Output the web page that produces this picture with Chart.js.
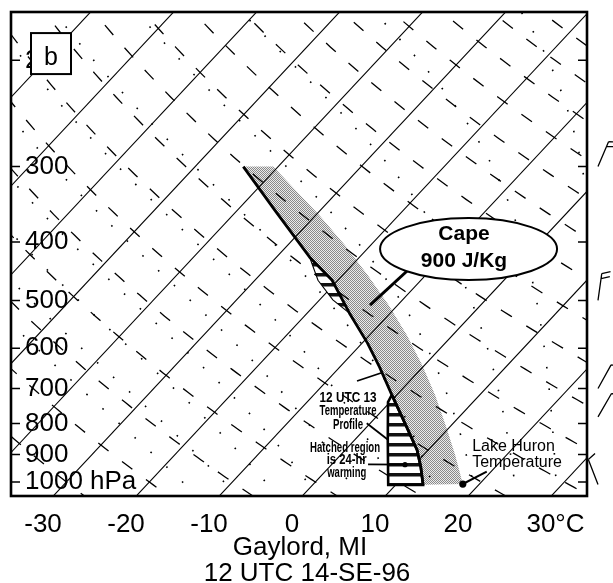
<!DOCTYPE html>
<html><head><meta charset="utf-8">
<script src="https://cdn.jsdelivr.net/npm/chart.js@4.4.1/dist/chart.umd.min.js"></script>
<style>html,body{margin:0;padding:0;background:#fff;}#wrap{width:613px;height:583px;position:relative;}</style>
</head><body><div id="wrap"><canvas id="c" width="613" height="583"></canvas></div>
<script>
// ---------------- data ----------------
const X_TICKS = [-30, -20, -10, 0, 10, 20, 30];
const X_TICK_LABELS = ['-30', '-20', '-10', '0', '10', '20', '    30\u00B0C'];
const P_TICKS = [200, 300, 400, 500, 600, 700, 800, 900, 1000];
const P_TICK_LABELS = ['200', '300', '400', '500', '600', '700', '800', '900', '1000 hPa'];

const ISOTHERMS = [-90, -80, -70, -60, -50, -40, -30, -20, -10, 0, 10, 20, 30];          // °C
const DRY_ADIABATS = [-40, -30, -20, -10, 0, 10, 20, 30, 40, 50, 60, 70, 80, 90, 100, 110, 120, 130, 140, 150]; // theta °C
const MOIST_ADIABATS = [-16, -11, -6, -1, 4, 9, 14, 19, 24, 29, 34];                      // T at 1000 hPa, °C

// 12 UTC 14 Sep 96 temperature profile (thick line)
const PROFILE_P = [300, 357, 424, 463, 525, 588, 645, 717, 805, 885, 944, 1011];
const PROFILE_T = [-44.2, -35.1, -26.0, -20.7, -14.9, -9.4, -5.2, -0.6, 4.5, 8.65, 11.0, 13.3];
// 12 UTC 13 profile where it differs (left edges of hatched regions)
const OLD_UP_P = [424, 463, 499, 525];
const OLD_UP_T = [-26.0, -22.4, -18.4, -14.9];
const OLD_LOW_P = [717, 737, 852, 1011];
const OLD_LOW_T = [-0.6, -0.25, 4.0, 9.1];
// parcel lifted from Lake Huron temperature (right edge of CAPE area)
const PARCEL_P = [1008, 902, 805, 717, 640, 571, 509, 454, 405, 361, 328, 300];
const PARCEL_T = [18.0, 13.8, 9.3, 4.6, -0.3, -5.5, -11.1, -17.0, -23.1, -29.6, -35.3, -40.6];
const LAKE_P = [1008];
const LAKE_T = [18.0];
// wind barbs on the right
const BARB_P = [300, 500, 700, 780, 1010];
const BARB_DIR = [23, 8, 29, 30, -21];
const BARB_FEATHERS = [2, 2, 1, 1, 1];

// ---------------- diagram geometry ----------------
const SKEW = 29.5, P_REF = 1100;
const skewX = (T, P) => T + SKEW * Math.log(P_REF / P);
const pt = (T, P) => ({x: skewX(T, P), y: P});
const FONT = '"Liberation Sans", Arial, Helvetica, sans-serif';

function pressures(){ const a=[]; for(let p=160;p<=1060;p+=10) a.push(p); return a; }
function isotherm(T){ return [pt(T,160), pt(T,1060)]; }
function dryAdiabat(th){ return pressures().map(p => pt((th+273.15)*Math.pow(p/1000,0.2857)-273.15, p)); }
function moistAdiabat(T0){
  const Rd=287.04,Cp=1005.7,Lv=2.501e6,eps=0.622;
  const f=(T,P)=>{const c=T-273.15;const es=6.112*Math.exp(17.67*c/(c+243.5));const rs=eps*es/(P-es);
    return (Rd*T+Lv*rs)/(Cp+Lv*Lv*rs*eps/(Rd*T*T));};
  const step=(T,l,h)=>{const k1=f(T,Math.exp(l));const k2=f(T+h*k1/2,Math.exp(l+h/2));
    const k3=f(T+h*k2/2,Math.exp(l+h/2));const k4=f(T+h*k3,Math.exp(l+h));return T+h*(k1+2*k2+2*k3+k4)/6;};
  const up=[pt(T0,1000)]; let T=T0+273.15, l=Math.log(1000);
  while(l>Math.log(160)){T=step(T,l,-0.02);l-=0.02;up.push(pt(T-273.15,Math.exp(l)));}
  const dn=[]; T=T0+273.15; l=Math.log(1000);
  while(l<Math.log(1060)){T=step(T,l,0.02);l+=0.02;dn.push(pt(T-273.15,Math.exp(l)));}
  return dn.reverse().concat(up);
}
const series = (P, T) => P.map((p,i) => pt(T[i], p));

const profile = series(PROFILE_P, PROFILE_T);
const between = (lo, hi) => profile.filter(d => d.y >= lo && d.y <= hi);
const lowHatch = series(OLD_LOW_P, OLD_LOW_T).concat(between(717, 1011).reverse());
const upHatch = series(OLD_UP_P, OLD_UP_T).concat(between(424, 525).reverse());
const capeArea = profile.concat(series(PARCEL_P, PARCEL_T));

// ---------------- patterns ----------------
const mainCtx = document.getElementById('c').getContext('2d');
function grayPattern(){
  const c=document.createElement('canvas'); c.width=2; c.height=2; const g=c.getContext('2d');
  g.fillStyle='rgba(0,0,0,0.08)'; g.fillRect(0,0,2,2);
  g.fillStyle='rgba(0,0,0,0.42)'; g.fillRect(0,0,1,1); g.fillRect(1,1,1,1);
  return mainCtx.createPattern(c,'repeat');
}
function hatchPattern(){
  const c=document.createElement('canvas'); c.width=10; c.height=10; const g=c.getContext('2d');
  g.fillStyle='#fff'; g.fillRect(0,0,10,10);
  g.fillStyle='#111'; g.fillRect(0,3,10,3.5);
  return mainCtx.createPattern(c,'repeat');
}

// ---------------- datasets ----------------
const base = {showLine:true, pointRadius:0, tension:0, fill:false, borderColor:'#000'};
const datasets = [
  Object.assign({}, base, {data: profile, borderWidth: 2.8, borderJoinStyle:'round'}),
  Object.assign({}, base, {data: lowHatch, borderWidth: 2.6, fill:'shape', backgroundColor: hatchPattern(), borderJoinStyle:'miter'}),
  Object.assign({}, base, {data: upHatch, borderWidth: 1.1, fill:'shape', backgroundColor: hatchPattern()}),
  Object.assign({}, base, {data: capeArea, borderWidth: 0, fill:'shape', backgroundColor: grayPattern()}),
];
ISOTHERMS.forEach(t => datasets.push(Object.assign({}, base, {data: isotherm(t), borderWidth: 1.1})));
DRY_ADIABATS.forEach(t => datasets.push(Object.assign({}, base, {data: dryAdiabat(t), borderWidth: 1.3, borderDash:[13,17]})));
MOIST_ADIABATS.forEach(t => datasets.push(Object.assign({}, base, {data: moistAdiabat(t), borderWidth: 1.6, borderDash:[1.6,20], borderCapStyle:'butt'})));

// ---------------- annotations (positions in axis units / hPa) ----------------
const NOTES = [
  {t:'Cape', x:20.72, p:397.1, font:'bold 21px', align:'center'},
  {t:'900 J/Kg', x:20.72, p:439.7, font:'bold 21px', align:'center'},
  {t:'12 UTC 13', x:6.75, p:737.8, font:'bold 14px', align:'center', w:57},
  {t:'Temperature', x:6.75, p:774.4, font:'bold 14px', align:'center', w:57},
  {t:'Profile', x:6.75, p:816.9, font:'bold 14px', align:'center', w:30},
  {t:'Hatched region', x:6.39, p:890.8, font:'bold 14px', align:'center', w:70},
  {t:'is 24-hr', x:6.59, p:934.7, font:'bold 14px', align:'center', w:40},
  {t:'warming', x:6.59, p:981, font:'bold 14px', align:'center', w:39},
  {t:'Lake Huron', x:21.7, p:889.4, font:'16px', align:'left'},
  {t:'Temperature', x:21.7, p:944.4, font:'16px', align:'left'}
];
const LEADERS = [
  {a:[13.86,446.9], b:[9.40,508.9], w:3},
  {a:[7.83,680.1], b:[10.72,659.7], w:1.8},
  {a:[9.00,799.3], b:[11.60,851.9], w:1.8},
  {a:[9.16,934.7], b:[13.61,936.1], w:1.8, dot:2.6},
  {a:[20.57,1007.7], b:[23.46,961.5], w:2}
];
const ELLIPSE = {x:21.27, p:411.0, rx:88.5, ry:31};
const BOX = {x:-29.04, p:194.9, w:40, h:41, t:'b'};

const decor = {
  id:'decor',
  afterDraw(chart){
    const {ctx, chartArea:a, scales:{x, y}} = chart;
    const X = v => x.getPixelForValue(v), Y = v => y.getPixelForValue(v);
    ctx.save();
    ctx.strokeStyle='#000'; ctx.fillStyle='#000'; ctx.lineCap='butt';
    // edge ticks
    ctx.lineWidth=1.5;
    P_TICKS.forEach(p => { const py=Y(p); ctx.beginPath(); ctx.moveTo(a.left,py); ctx.lineTo(a.left+9,py);
      ctx.moveTo(a.right,py); ctx.lineTo(a.right-9,py); ctx.stroke(); });
    // leaders
    LEADERS.forEach(l => { ctx.lineWidth=l.w; ctx.beginPath(); ctx.moveTo(X(l.a[0]),Y(l.a[1])); ctx.lineTo(X(l.b[0]),Y(l.b[1])); ctx.stroke();
      if (l.dot){ ctx.beginPath(); ctx.arc(X(l.b[0]),Y(l.b[1]),l.dot,0,Math.PI*2); ctx.fill(); } });
    // lake dot
    LAKE_P.forEach((p,i) => { ctx.beginPath(); ctx.arc(X(skewX(LAKE_T[i],p)),Y(p),3.6,0,Math.PI*2); ctx.fill(); });
    // ellipse
    ctx.beginPath(); ctx.ellipse(X(ELLIPSE.x),Y(ELLIPSE.p),ELLIPSE.rx,ELLIPSE.ry,0,0,Math.PI*2);
    ctx.fillStyle='#fff'; ctx.fill(); ctx.lineWidth=2; ctx.stroke(); ctx.fillStyle='#000';
    // notes
    NOTES.forEach(n => { ctx.font = n.font+' '+FONT; ctx.textAlign=n.align; ctx.textBaseline='alphabetic';
      if (n.w) ctx.fillText(n.t, X(n.x), Y(n.p), n.w); else ctx.fillText(n.t, X(n.x), Y(n.p)); });
    // box b
    const bx=X(BOX.x), by=Y(BOX.p);
    ctx.fillStyle='#fff'; ctx.fillRect(bx-BOX.w/2,by-BOX.h/2,BOX.w,BOX.h);
    ctx.lineWidth=2; ctx.strokeRect(bx-BOX.w/2,by-BOX.h/2,BOX.w,BOX.h);
    ctx.fillStyle='#000'; ctx.font='25px '+FONT; ctx.textAlign='center'; ctx.fillText(BOX.t,bx,by+11.5);
    // frame
    ctx.lineWidth=2.6; ctx.strokeRect(a.left,a.top,a.right-a.left,a.bottom-a.top);
    // wind barbs
    ctx.lineWidth=1.3;
    BARB_P.forEach((p,i) => { const x0=a.right+11, y0=Y(p), ang=BARB_DIR[i]*Math.PI/180;
      const dx=Math.sin(ang), dy=-Math.cos(ang), L=27;
      const tx=x0+dx*L, ty=y0+dy*L;
      ctx.beginPath(); ctx.moveTo(x0,y0); ctx.lineTo(tx,ty);
      for(let k=0;k<BARB_FEATHERS[i];k++){ const sx=tx-dx*k*5, sy=ty-dy*k*5;
        const fa=ang+Math.PI/2.6; ctx.moveTo(sx,sy); ctx.lineTo(sx+Math.sin(fa)*9, sy-Math.cos(fa)*9); }
      ctx.stroke(); });
    // axis title
    ctx.font='26px '+FONT; ctx.textAlign='center';
    ctx.fillText('Gaylord, MI', (a.left+a.right)/2+1, a.bottom+59);
    ctx.fillText('12 UTC 14-SE-96', (a.left+a.right)/2+8, a.bottom+85);
    ctx.restore();
  }
};

new Chart(document.getElementById('c'), {
  type:'scatter',
  data:{datasets},
  options:{
    responsive:false, animation:false, events:[],
    layout:{padding:{left:11, top:12, right:26, bottom:0}},
    plugins:{legend:{display:false}, tooltip:{enabled:false}},
    scales:{
      x:{type:'linear', min:-33.86, max:35.54,
        grid:{display:false}, border:{display:false},
        afterBuildTicks: s => { s.ticks = X_TICKS.map(v => ({value:v})); },
        afterFit: s => { s.height = 87; s.paddingLeft = 0; s.paddingRight = 0; },
        ticks:{autoSkip:false, maxRotation:0, padding:5, color:'#000', font:{family:FONT, size:26},
          callback: v => X_TICK_LABELS[X_TICKS.indexOf(v)]}},
      y:{type:'logarithmic', reverse:true, min:166.3, max:1054.9,
        grid:{display:false}, border:{display:false},
        afterBuildTicks: s => { s.ticks = P_TICKS.map(v => ({value:v})); },
        afterFit: s => { s.width = 0; s.paddingTop = 0; s.paddingBottom = 0; },
        ticks:{autoSkip:false, mirror:true, padding:14, color:'#000', font:{family:FONT, size:26},
          callback: v => P_TICK_LABELS[P_TICKS.indexOf(v)]}}
    }
  },
  plugins:[decor]
});
</script></body></html>
